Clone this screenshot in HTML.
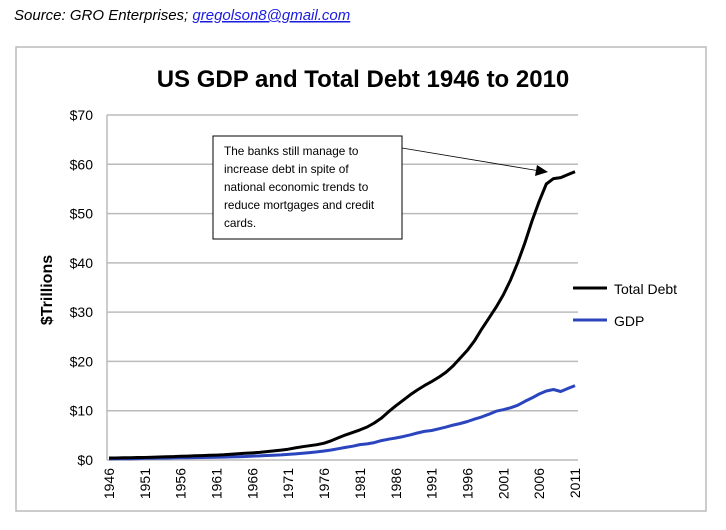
<!DOCTYPE html>
<html><head><meta charset="utf-8"><style>
body{margin:0;background:#fff;width:726px;height:525px;overflow:hidden;font-family:"Liberation Sans",sans-serif}
</style></head><body>
<svg id="c" width="726" height="525" xmlns="http://www.w3.org/2000/svg">
<text x="14" y="20" font-size="15" font-style="italic" fill="#000">Source: GRO Enterprises; <tspan fill="#1a1ae0" text-decoration="underline">gregolson8@gmail.com</tspan></text>
<rect x="16" y="47" width="690" height="464" fill="#fff" stroke="#bbb" stroke-width="1.5"/>
<text x="363" y="87" font-size="24" font-weight="bold" text-anchor="middle">US GDP and Total Debt 1946 to 2010</text>
<text transform="translate(52,290) rotate(-90)" font-size="16" font-weight="bold" text-anchor="middle">$Trillions</text>
<g id="grid"></g><g id="lines"></g>
<rect x="213" y="136" width="189" height="103" fill="#fff" stroke="#000" stroke-width="1"/>
<text font-size="11.8">
<tspan x="224" y="155">The banks still manage to</tspan>
<tspan x="224" y="173">increase debt in spite of</tspan>
<tspan x="224" y="191">national economic trends to</tspan>
<tspan x="224" y="209">reduce mortgages and credit</tspan>
<tspan x="224" y="227">cards.</tspan></text>
<line x1="402" y1="148" x2="540" y2="171" stroke="#000" stroke-width="0.8"/>
<polygon points="548,172 535,176 537,165" fill="#000"/>
<line x1="573" y1="288" x2="607" y2="288" stroke="#000" stroke-width="3"/>
<text x="614" y="294" font-size="14">Total Debt</text>
<line x1="573" y1="320" x2="607" y2="320" stroke="#2b45bf" stroke-width="3"/>
<text x="614" y="326" font-size="14">GDP</text>
</svg>
<script>
const years=[];for(let y=1946;y<=2011;y++)years.push(y);
const debt=[.4,.4,.45,.45,.5,.5,.55,.6,.65,.7,.75,.8,.85,.9,.95,1.0,1.05,1.15,1.25,1.35,1.45,1.55,1.7,1.85,2.0,2.2,2.45,2.7,2.9,3.1,3.4,3.9,4.5,5.1,5.6,6.1,6.7,7.5,8.5,9.8,11.0,12.1,13.2,14.2,15.1,15.9,16.8,17.8,19.1,20.7,22.3,24.2,26.6,28.8,31.0,33.5,36.5,40.0,44.0,48.5,52.5,56.0,57.1,57.3,57.9,58.5];
const gdp=[.22,.24,.27,.27,.29,.34,.36,.38,.39,.42,.44,.47,.48,.51,.53,.54,.59,.62,.66,.72,.79,.83,.91,.98,1.04,1.13,1.24,1.38,1.5,1.64,1.82,2.03,2.29,2.56,2.79,3.13,3.26,3.54,3.93,4.22,4.46,4.74,5.1,5.48,5.8,5.99,6.34,6.67,7.09,7.4,7.82,8.3,8.75,9.3,9.9,10.2,10.6,11.1,11.9,12.6,13.4,14.0,14.3,13.9,14.5,15.1];
const yTicks=[0,10,20,30,40,50,60,70];
const xLabels=[1946,1951,1956,1961,1966,1971,1976,1981,1986,1991,1996,2001,2006,2011];
const NS="http://www.w3.org/2000/svg";
const X=y=>109+(y-1946)*(575-109)/65, Y=v=>460-v*(460-115)/70;
const grid=document.getElementById('grid'),lines=document.getElementById('lines');
function mk(tag,attrs,parent){const e=document.createElementNS(NS,tag);for(const k in attrs)e.setAttribute(k,attrs[k]);parent.appendChild(e);return e;}
yTicks.forEach(v=>{
 const l=mk('line',{x1:107,x2:578,y1:Y(v),y2:Y(v),stroke:'#bbb','stroke-width':1.5},grid);
 
 
 const t=mk('text',{x:93,y:Y(v)+5,'font-size':14,'text-anchor':'end'},grid);t.textContent='$'+v;
 
 
});
mk('line',{x1:107,x2:107,y1:115,y2:460,stroke:'#bbb','stroke-width':1.5},grid);
xLabels.forEach(yr=>{
 const t=mk('text',{transform:`translate(${X(yr)+5},468) rotate(-90)`,'font-size':14,'text-anchor':'end'},grid);t.textContent=yr;
 
 
});
function path(vals,color,name){
 const d=vals.map((v,i)=>(i?'L':'M')+X(years[i]).toFixed(1)+','+Y(v).toFixed(1)).join('');
 const p=mk('path',{d:d,fill:'none',stroke:color,'stroke-width':3,'stroke-linejoin':'round'},lines);
 
 
}
path(gdp,'#2b45bf','gdp-line');
path(debt,'#000','total-debt-line');
</script>
</body></html>
